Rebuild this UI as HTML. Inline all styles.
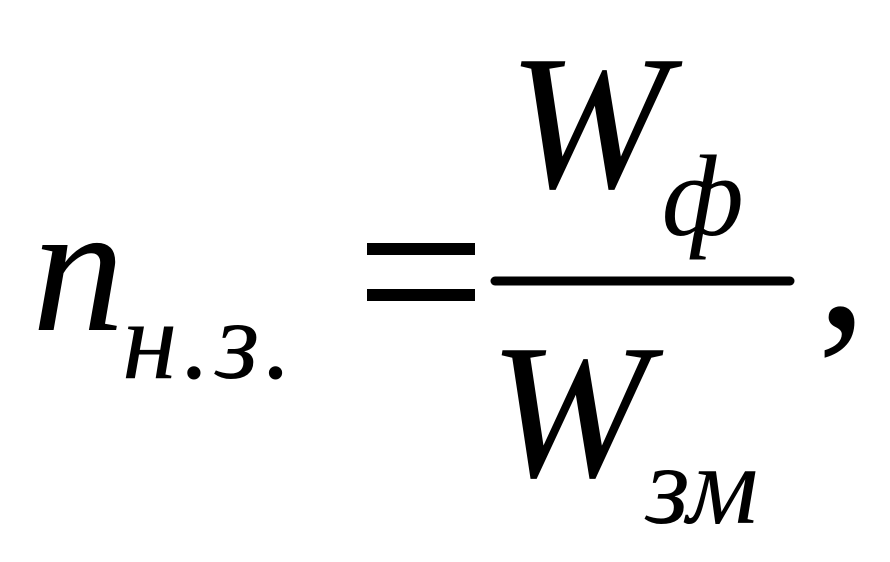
<!DOCTYPE html>
<html><head><meta charset="utf-8"><style>
html,body{margin:0;padding:0;background:#fff;}
svg{display:block;}
text{font-family:"Liberation Serif","DejaVu Serif",serif;fill:#000;}
</style></head><body>
<svg width="890" height="562" viewBox="0 0 890 562" xmlns="http://www.w3.org/2000/svg">
<text x="32" y="330" font-size="185" font-style="italic">n</text>
<text x="122" y="378" font-size="112" font-style="italic" letter-spacing="5">н.з.</text>
<rect x="367" y="243" width="108" height="12" fill="#000"/>
<rect x="367" y="289" width="108" height="12" fill="#000"/>
<line x1="495" y1="281" x2="790" y2="281" stroke="#000" stroke-width="9" stroke-linecap="round"/>
<text x="508" y="187" font-size="192" font-style="italic">W</text>
<text x="662" y="235" font-size="115" font-style="italic">ф</text>
<text x="489" y="476" font-size="192" font-style="italic">W</text>
<text x="646" y="523" font-size="112" font-style="italic">зм</text>
<text x="817" y="327" font-size="200">,</text>
</svg>
</body></html>
